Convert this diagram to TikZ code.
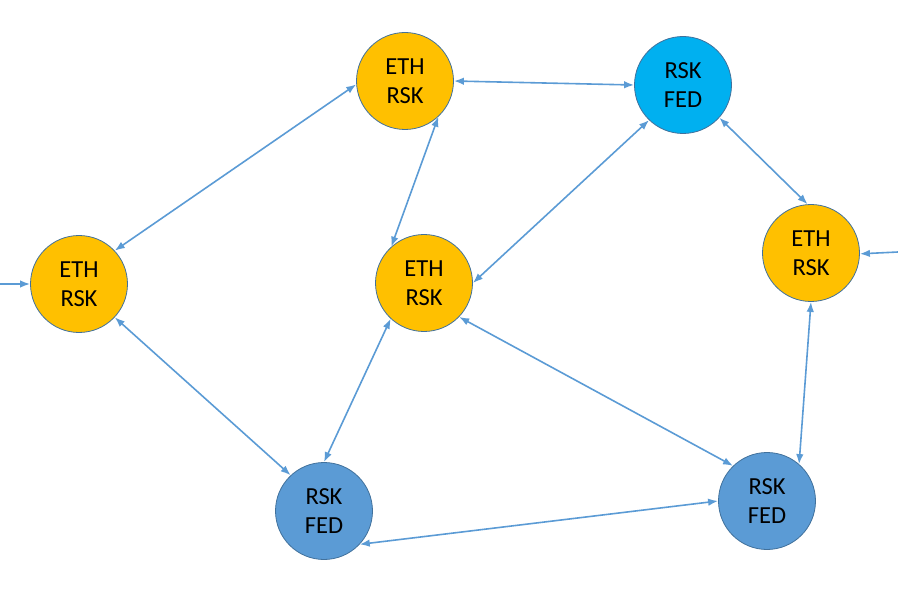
\documentclass[tikz,border=0pt]{standalone}
\usepackage{fontspec}
\setmainfont{Carlito}
\usetikzlibrary{arrows.meta}

\definecolor{ethgold}{HTML}{FFC000}
\definecolor{fedsky}{HTML}{00B0F0}
\definecolor{fedblue}{HTML}{5B9BD5}
\definecolor{rim}{HTML}{41719C}
\definecolor{wire}{HTML}{5B9BD5}

\tikzset{
  peer/.style={circle, draw=rim, line width=0.8pt, minimum size=97pt, inner sep=0pt,
    align=center, font=\fontsize{24.5}{29.5}\selectfont},
  eth/.style={peer, fill=ethgold},
  fed/.style={peer, fill=fedblue},
  fedtop/.style={peer, fill=fedsky},
  link/.style={wire, line width=1.6pt, {Latex[length=10pt,width=7.5pt]}-{Latex[length=10pt,width=7.5pt]}},
  feed/.style={wire, line width=1.6pt, -{Latex[length=10pt,width=7.5pt]}}
}

\begin{document}
\begin{tikzpicture}[x=1pt, y=-1pt]
    \useasboundingbox (0,0) rectangle (898,591);

    % Nodos ETH/RSK
    \node[eth] (ethL) at (79,284) {ETH\\RSK};
    \node[eth] (ethT) at (405,81) {ETH\\RSK};
    \node[eth] (ethM) at (424,283) {ETH\\RSK};
    \node[eth] (ethR) at (811,253) {ETH\\RSK};

    % Nodos RSK/FED
    \node[fedtop] (fedT) at (683,85) {RSK\\FED};
    \node[fed] (fedL) at (324,511) {RSK\\FED};
    \node[fed] (fedR) at (767,501) {RSK\\FED};

    % Entradas
    \coordinate (inL) at (0,284);
    \coordinate (inR) at (898,252);
    \draw[feed] (inL) -- (ethL.180);
    \draw[feed] (inR) -- (ethR.-1);

    % Enlaces
    \draw[link] (ethL.43) -- (ethT.184);
    \draw[link] (ethT.0) -- (fedT.180);
    \draw[link] (ethT.-47) -- (ethM.132);
    \draw[link] (fedT.-134) -- (ethM.0);
    \draw[link] (fedT.-42) -- (ethR.94);
    \draw[link] (ethL.-43) -- (fedL.133);
    \draw[link] (ethM.-133) -- (fedL.90);
    \draw[link] (ethM.-44) -- (fedR.134);
    \draw[link] (ethR.-90) -- (fedR.49);
    \draw[link] (fedL.-43) -- (fedR.180);
\end{tikzpicture}
\end{document}
